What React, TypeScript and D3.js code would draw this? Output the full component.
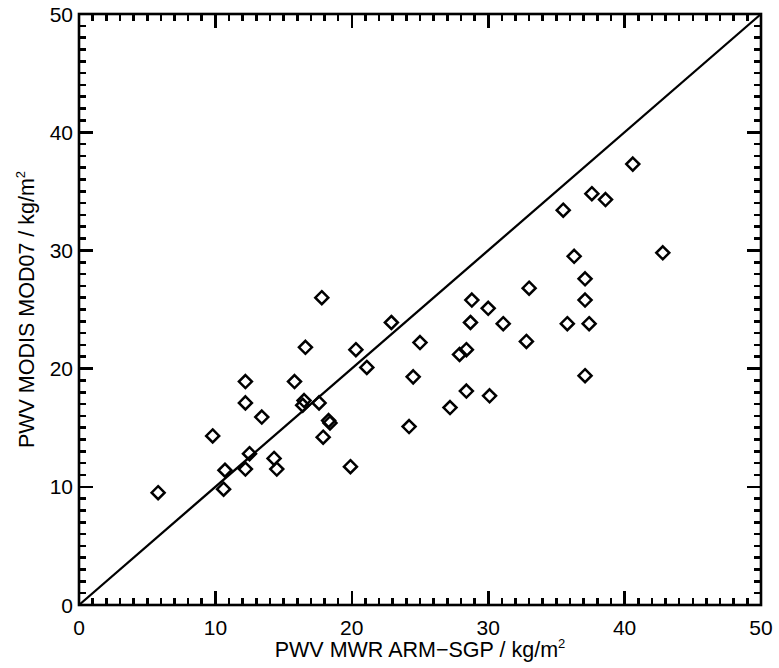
import React from 'react';
import * as d3 from 'd3';

// PWV comparison: MWR ARM-SGP (x) vs MODIS MOD07 (y), kg/m2
const mwrPwv = [
  5.8, 9.8, 10.6, 10.7, 12.2, 12.2, 12.2, 12.5, 13.4, 14.3, 14.5, 15.8, 16.4, 16.5, 16.6, 17.6,
  17.8, 17.9, 18.3, 18.4, 19.9, 20.3, 21.1, 22.9, 24.2, 24.5, 25.0, 27.2, 27.9, 28.4, 28.4, 28.7,
  28.8, 30.0, 30.1, 31.1, 32.8, 33.0, 35.5, 35.8, 36.3, 37.1, 37.1, 37.1, 37.4, 37.6, 38.6, 40.6, 42.8,
];
const modisPwv = [
  9.5, 14.3, 9.8, 11.4, 18.9, 17.1, 11.5, 12.8, 15.9, 12.4, 11.5, 18.9, 16.9, 17.3, 21.8, 17.1,
  26.0, 14.2, 15.6, 15.4, 11.7, 21.6, 20.1, 23.9, 15.1, 19.3, 22.2, 16.7, 21.2, 21.6, 18.1, 23.9,
  25.8, 25.1, 17.7, 23.8, 22.3, 26.8, 33.4, 23.8, 29.5, 27.6, 25.8, 19.4, 23.8, 34.8, 34.3, 37.3, 29.8,
];
const majorTicks = [0, 10, 20, 30, 40, 50];
const minorTicks = d3.range(0, 51, 1);
const xTitle = 'PWV MWR ARM\u2212SGP / kg/m';
const yTitle = 'PWV MODIS MOD07 / kg/m';

const W = 779;
const H = 668;
const mLeft = 79, mRight = 761, mTop = 14, mBottom = 605;
const font = '"Liberation Sans", Arial, Helvetica, sans-serif';

export default function App() {
  const x = d3.scaleLinear().domain([0, 50]).range([mLeft, mRight]);
  const y = d3.scaleLinear().domain([0, 50]).range([mBottom, mTop]);
  const diag = d3.line<number>().x(d => x(d)).y(d => y(d));
  const r = 6.5;

  const tickLen = (t: number) => (t % 10 === 0 ? 14 : 7);

  return (
    <svg width={W} height={H} style={{ position: 'absolute', left: 0, top: 0, background: '#fff' }}>
      <rect width={W} height={H} fill="#fff" />
      <rect x={mLeft} y={mTop} width={mRight - mLeft} height={mBottom - mTop} fill="none" stroke="#000" strokeWidth={2.6} />

      {/* ticks, inward on all four sides */}
      <g stroke="#000" strokeWidth={2.6} shapeRendering="crispEdges">
        {minorTicks.map(t => (
          <line key={'b' + t} x1={x(t)} x2={x(t)} y1={mBottom} y2={mBottom - tickLen(t)} />
        ))}
        {minorTicks.map(t => (
          <line key={'t' + t} x1={x(t)} x2={x(t)} y1={mTop} y2={mTop + tickLen(t)} />
        ))}
        {minorTicks.map(t => (
          <line key={'l' + t} x1={mLeft} x2={mLeft + tickLen(t)} y1={y(t)} y2={y(t)} />
        ))}
        {minorTicks.map(t => (
          <line key={'r' + t} x1={mRight} x2={mRight - tickLen(t)} y1={y(t)} y2={y(t)} />
        ))}
      </g>

      {/* 1:1 line */}
      <path d={diag([0, 50]) || ''} fill="none" stroke="#000" strokeWidth={2.3} />

      {/* points */}
      <g fill="none" stroke="#000" strokeWidth={2.5}>
        {mwrPwv.map((v, i) => {
          const cx = x(v), cy = y(modisPwv[i]);
          return <path key={i} d={`M${cx},${cy - r}L${cx + r},${cy}L${cx},${cy + r}L${cx - r},${cy}Z`} />;
        })}
      </g>

      {/* tick labels */}
      <g fontFamily={font} fontSize={21} fill="#000">
        {majorTicks.map(t => (
          <text key={'x' + t} x={x(t)} y={mBottom + 30} textAnchor="middle">{t}</text>
        ))}
        {majorTicks.map(t => (
          <text key={'y' + t} x={mLeft - 6} y={y(t) + 7.5} textAnchor="end">{t}</text>
        ))}
      </g>

      {/* axis titles */}
      <text x={(mLeft + mRight) / 2} y={657} textAnchor="middle" fontFamily={font} fontSize={21.5}>
        {xTitle}
        <tspan fontSize={13} dy={-9}>2</tspan>
      </text>
      <text
        transform={`translate(34,${(mTop + mBottom) / 2}) rotate(-90)`}
        textAnchor="middle"
        fontFamily={font}
        fontSize={21.5}
      >
        {yTitle}
        <tspan fontSize={13} dy={-9}>2</tspan>
      </text>
    </svg>
  );
}
